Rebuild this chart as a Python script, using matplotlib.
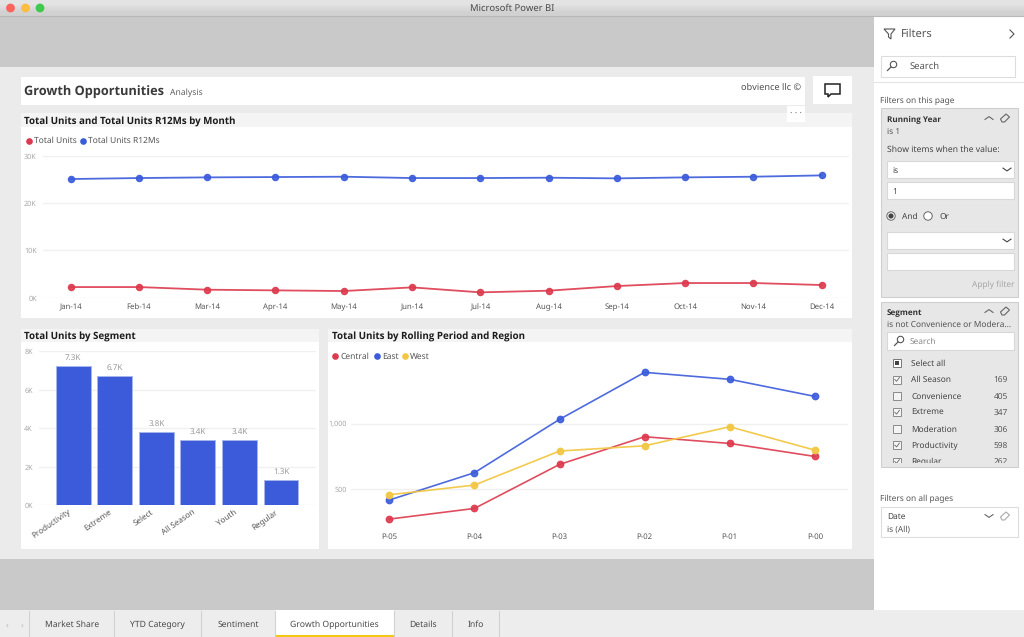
import matplotlib
matplotlib.use("Agg")
import matplotlib.pyplot as plt
from matplotlib.patches import Rectangle, Circle, Polygon
from matplotlib.transforms import ScaledTranslation

plt.rcParams['font.family'] = ['Noto Sans', 'Open Sans', 'DejaVu Sans']
plt.rcParams['text.hinting'] = 'no_hinting'

W, H = 1024, 637

months = ['Jan-14', 'Feb-14', 'Mar-14', 'Apr-14', 'May-14', 'Jun-14',
          'Jul-14', 'Aug-14', 'Sep-14', 'Oct-14', 'Nov-14', 'Dec-14']
total_units = [2250, 2250, 1690, 1550, 1410, 2180, 1130, 1480, 2460, 3100, 3100, 2680]
total_units_r12 = [25070, 25280, 25420, 25490, 25560, 25280, 25280, 25350, 25210, 25420, 25560, 25840]
month_ticks = [0, 10000, 20000, 30000]
month_tick_labels = ['0K', '10K', '20K', '30K']

segments = ['Productivity', 'Extreme', 'Select', 'All Season', 'Youth', 'Regular']
segment_units = [7240, 6740, 3790, 3380, 3380, 1330]
segment_labels = ['7.3K', '6.7K', '3.8K', '3.4K', '3.4K', '1.3K']
segment_ticks = [0, 2000, 4000, 6000, 8000]
segment_tick_labels = ['0K', '2K', '4K', '6K', '8K']

periods = ['P-05', 'P-04', 'P-03', 'P-02', 'P-01', 'P-00']
central = [274, 355, 690, 901, 850, 751]
east = [419, 627, 1033, 1391, 1338, 1208]
west = [459, 533, 792, 832, 977, 799]

tabs = ['Market Share', 'YTD Category', 'Sentiment', 'Growth Opportunities', 'Details', 'Info']
filter_items = ['All Season', 'Convenience', 'Extreme', 'Moderation', 'Productivity', 'Regular']
filter_counts = [169, 405, 347, 306, 598, 262]
filter_checked = [True, False, True, False, True, True]

RED = '#dc3a4d'
BLUE = '#3b5bdb'
YELLOW = '#f2c744'
GRID = '#f0f0f0'
TICK = '#a8a8a8'
TEXT = '#444444'

fig = plt.figure(figsize=(W / 100, H / 100), dpi=100, facecolor='white')

# whole-figure axes in pixels for the app window around the charts
ui = fig.add_axes([0, 0, 1, 1], zorder=0)
ui.axis('off')
ui.imshow([[0.89], [0.82]], extent=(0, W, 16, 0), cmap='gray', vmin=0, vmax=1, aspect='auto',
          interpolation='bilinear', zorder=1)
ui.set_xlim(0, W)
ui.set_ylim(H, 0)


def box(x0, y0, x1, y1, fc='white', ec='none', lw=0.8, z=1):
    r = Rectangle((x0, y0), x1 - x0, y1 - y0, fc=fc, ec=ec, lw=lw, zorder=z)
    ui.add_patch(r)
    return r


def label(x, y, s, size=6.5, color=TEXT, ha='left', weight='normal', **kw):
    # the Noto Sans here has no bold face, so bold text comes from Open Sans
    if weight == 'bold':
        kw['family'] = ['Open Sans', 'DejaVu Sans']
        y += 1
    return ui.text(x, y + 0.7, s, fontsize=size, color=color, ha=ha, va='center',
                   fontweight=weight, zorder=5, **kw)


def px_axes(x0, x1, y_top, y_bot):
    ax = fig.add_axes([x0 / W, 1 - y_bot / H, (x1 - x0) / W, (y_bot - y_top) / H], zorder=2)
    ax.patch.set_alpha(0)
    for s in ax.spines.values():
        s.set_visible(False)
    ax.tick_params(length=0)
    ax.grid(axis='y', color=GRID, lw=1)
    ax.set_axisbelow(True)
    return ax


def chevron(x, y, size=4, up=False, color='#666666'):
    d = -size * 0.7 if up else size * 0.7
    ui.plot([x - size, x, x + size], [y - d / 2, y + d / 2, y - d / 2], color=color, lw=0.8, zorder=5)


def eraser(x, y, color='#666666'):
    ui.add_patch(Polygon([(x - 4.5, y + 1), (x + 1, y - 4), (x + 4.5, y - 1), (x - 0.5, y + 4), (x - 3, y + 4)],
                         fc='none', ec=color, lw=0.8, zorder=5))


def search_icon(x, y, color='#555555'):
    ui.add_patch(Circle((x + 1.5, y - 1.5), 3.2, fc='none', ec=color, lw=0.8, zorder=5))
    ui.plot([x - 1, x - 4.5], [y + 1, y + 4.5], color=color, lw=0.9, zorder=5)


# window background
ui.plot([0, W], [15.5, 15.5], color='#b8b8b8', lw=0.8, zorder=2)
box(0, 16, 874, 67, fc='#c9c9c9')
box(0, 67, 874, 559, fc='#ebebeb')
box(0, 559, 874, 610, fc='#c9c9c9')
box(874, 16, W, 610, fc='white')
box(0, 610, W, H, fc='#ededed')
for x, c in zip([10.5, 25.5, 40], ['#f9645c', '#fbbd41', '#3fc94f']):
    ui.add_patch(Circle((x, 8), 4.4, fc=c, ec='none', zorder=3))
label(512, 8, 'Microsoft Power BI', size=6.8, color='#4a4a4a', ha='center')

# report header
box(21, 77, 805, 105)
label(24.5, 90.5, 'Growth Opportunities', size=9.2, color='#3a3a3a', weight='bold')
label(170, 92, 'Analysis', size=6.2, color='#606060')
label(801, 87.5, 'obvience llc ©', size=6.6, color='#505050', ha='right')
box(813, 76, 852, 104)
ui.add_patch(Polygon([(825, 84), (840, 84), (840, 94), (831, 94), (828, 97), (828, 94), (825, 94)],
                     fc='none', ec='#222222', lw=1.1, zorder=5))

# chart panels
box(21, 113, 852, 127, fc='#f4f4f4')
box(21, 127, 852, 318)
box(21, 329, 319, 342, fc='#f4f4f4')
box(21, 342, 319, 549)
box(328, 329, 852, 342, fc='#f4f4f4')
box(328, 342, 852, 549)
box(787, 106, 805, 122, z=3)
label(796, 113, '· · ·', size=6.5, color='#666666', ha='center')

label(24.5, 120, 'Total Units and Total Units R12Ms by Month', size=7, color='#1c1c1c', weight='bold')
label(24.5, 335.5, 'Total Units by Segment', size=7, color='#1c1c1c', weight='bold')
label(331.5, 335.5, 'Total Units by Rolling Period and Region', size=7, color='#1c1c1c', weight='bold')

# legends
for mx, tx, c, s in [(28.5, 33.5, RED, 'Total Units'), (83, 88, BLUE, 'Total Units R12Ms')]:
    ui.plot(mx, 140.5, 'o', ms=4.8, color=c, mec='none', zorder=5)
    label(tx, 140.5, s, size=6.1, color='#555555')
for mx, tx, c, s in [(335, 340.5, RED, 'Central'), (376.6, 381.8, BLUE, 'East'), (404.5, 410, YELLOW, 'West')]:
    ui.plot(mx, 356, 'o', ms=4.8, color=c, mec='none', zorder=5)
    label(tx, 356, s, size=6.1, color='#555555')

# line chart by month
ax1 = px_axes(43, 849, 155.7, 297.7)
ax1.plot(months, total_units, '-o', color=RED, lw=1.3, ms=4.4, alpha=0.9, clip_on=False)
ax1.plot(months, total_units_r12, '-o', color=BLUE, lw=1.3, ms=4.4, alpha=0.9, clip_on=False)
ax1.set_xlim(-0.405, 11.4)
ax1.set_ylim(0, 30000)
ax1.set_yticks(month_ticks, month_tick_labels, fontsize=5.2, color=TICK)
ax1.tick_params(axis='x', labelsize=5.6, labelcolor='#555555', pad=4)
ax1.tick_params(axis='y', pad=4.5)

# bars by segment
ax2 = px_axes(39, 315.7, 351.3, 505.3)
bars = ax2.bar(segments, segment_units, width=0.84, color=BLUE, edgecolor='#a8b6ee', lw=0.7)
ax2.bar_label(bars, labels=segment_labels, padding=3, fontsize=5.8, color='#999999')
ax2.set_xlim(-0.826, 5.835)
ax2.set_ylim(0, 8000)
ax2.set_yticks(segment_ticks, segment_tick_labels, fontsize=5.2, color=TICK)
ax2.tick_params(axis='y', pad=4.5)
ax2.tick_params(axis='x', pad=2)
plt.setp(ax2.get_xticklabels(), rotation=35, ha='right', rotation_mode='anchor', fontsize=5.8, color='#555555')
shift = ScaledTranslation(-6 / 100, 0, fig.dpi_scale_trans)
for t in ax2.get_xticklabels():
    t.set_transform(t.get_transform() + shift)

# lines by period and region
ax3 = px_axes(351, 848, 365, 525)
ax3.plot(periods, central, '-o', color=RED, lw=1.2, ms=4.6, alpha=0.9)
ax3.plot(periods, east, '-o', color=BLUE, lw=1.2, ms=4.6, alpha=0.9)
ax3.plot(periods, west, '-o', color=YELLOW, lw=1.2, ms=4.6, alpha=0.95)
ax3.set_xlim(-0.45, 5.39)
ax3.set_ylim(229, 1447)
ax3.set_yticks([500, 1000], ['500', '1,000'], fontsize=5.2, color=TICK)
ax3.tick_params(axis='y', pad=3)
ax3.tick_params(axis='x', labelsize=5.6, labelcolor='#555555', pad=6)

# filter pane
ui.add_patch(Polygon([(884, 29), (895, 29), (891, 34), (891, 39), (888.5, 37), (888.5, 34)],
                     fc='none', ec='#555555', lw=0.8, zorder=5))
label(901, 33, 'Filters', size=8, color='#555555')
ui.plot([1010, 1014, 1010], [30, 34, 38], color='#555555', lw=0.8, zorder=5)
box(880.5, 56, 1015, 77, ec='#dddddd')
search_icon(892, 66)
label(910, 66, 'Search', size=6.8, color='#555555')
ui.plot([874, W], [82, 82], color='#e4e4e4', lw=0.8, zorder=2)
label(880.5, 100, 'Filters on this page', size=6, color='#555555')

box(880.5, 108, 1018, 297, fc='#e7e7e7', ec='#cfcfcf')
label(887, 118.5, 'Running Year', size=5.9, color='#333333', weight='bold')
chevron(989, 118, up=True)
eraser(1005, 118)
label(887, 131, 'is 1', size=6, color='#555555')
label(887, 149, 'Show items when the value:', size=6.2, color='#444444')
box(887, 161, 1014, 178, ec='#d8d8d8', z=2)
label(892, 170, 'is', size=6, color='#444444')
chevron(1007, 169.5, color='#444444')
box(887, 182, 1014, 199, ec='#d8d8d8', z=2)
label(892, 191, '1', size=6, color='#444444')
ui.add_patch(Circle((891, 216), 4.2, fc='white', ec='#666666', lw=0.7, zorder=5))
ui.add_patch(Circle((891, 216), 2.6, fc='#444444', ec='none', zorder=6))
label(902, 216.5, 'And', size=6, color='#444444')
ui.add_patch(Circle((928, 216), 4.2, fc='white', ec='#666666', lw=0.7, zorder=5))
label(939, 216.5, 'Or', size=6, color='#444444')
box(887, 232, 1014, 249, ec='#d8d8d8', z=2)
chevron(1007, 240.5, color='#444444')
box(887, 253, 1014, 270, ec='#d8d8d8', z=2)
label(1014, 284, 'Apply filter', size=6, color='#a6a6a6', ha='right')

box(880.5, 302, 1018, 467, fc='#e7e7e7', ec='#cfcfcf')
label(887, 311.5, 'Segment', size=5.9, color='#333333', weight='bold')
chevron(989, 311, up=True)
eraser(1005, 311)
label(887, 324, 'is not Convenience or Modera...', size=6, color='#555555')
box(887, 332, 1014, 350, ec='#d8d8d8', z=2)
search_icon(899, 341)
label(910, 341.5, 'Search', size=6, color='#888888')

# clip the list so the last row is cut off by the card edge
list_clip = Rectangle((881, 355), 137, 108, transform=ui.transData)
ui.add_patch(Rectangle((893, 359), 8, 8, fc='white', ec='#777777', lw=0.7, zorder=5))
ui.add_patch(Rectangle((895, 361), 4, 4, fc='#444444', ec='none', zorder=6))
label(911, 363, 'Select all', size=6, color='#444444')
for i, (name, n, on) in enumerate(zip(filter_items, filter_counts, filter_checked)):
    y = 379.5 + i * 16.4
    cb = ui.add_patch(Rectangle((893, y - 4), 8, 8, fc='#f4f4f4', ec='#8a8a8a', lw=0.7, zorder=5))
    cb.set_clip_path(list_clip)
    if on:
        ck, = ui.plot([894.8, 896.6, 899.4], [y, y + 1.8, y - 2], color='#666666', lw=0.6, zorder=6)
        ck.set_clip_path(list_clip)
    for t in (label(911, y, name, size=6, color='#444444'),
              label(1008, y, str(n), size=6, color='#555555', ha='right')):
        t.set_clip_on(True)
        t.set_clip_path(list_clip)

label(880.5, 498, 'Filters on all pages', size=6, color='#555555')
box(880.5, 507, 1018, 537, ec='#dddddd')
label(887, 517, 'Date', size=6, color='#444444')
label(887, 529, 'is (All)', size=6, color='#555555')
chevron(989, 516)
eraser(1005, 516, color='#aaaaaa')

# page tabs
seps = [29.3, 114, 201, 274.7, 393.7, 452, 499]
box(seps[3], 610, seps[4], H)
box(seps[3], 635.4, seps[4], H, fc='#f2c811', z=2)
for x in seps:
    ui.plot([x, x], [611, H], color='#d2d2d2', lw=0.8, zorder=2)
for i, t in enumerate(tabs):
    label((seps[i] + seps[i + 1]) / 2, 624, t, size=6.2, color='#4a4a4a', ha='center')
label(7, 624, '‹', size=6.5, color='#bdbdbd', ha='center')
label(22, 624, '›', size=6.5, color='#bdbdbd', ha='center')

fig.savefig('out.png', dpi=100)
